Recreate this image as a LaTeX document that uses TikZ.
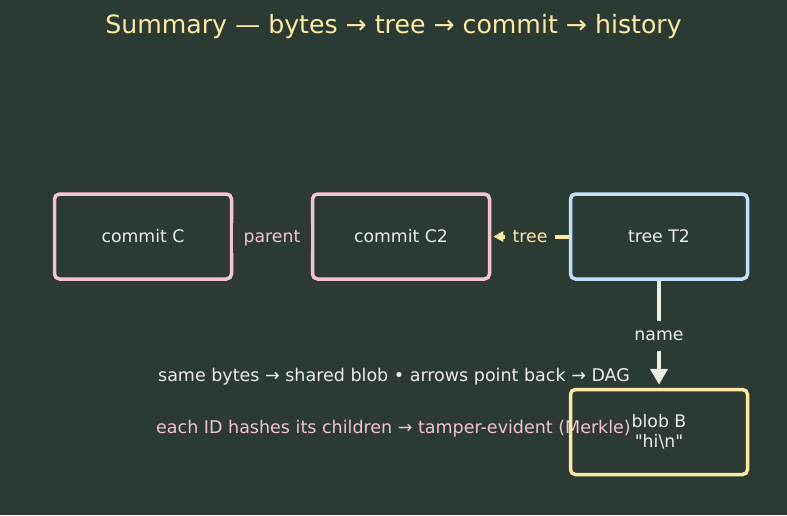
\documentclass[tikz,border=0pt]{standalone}
\usepackage{fontspec}
\setmainfont{DejaVu Sans}[Ligatures=TeXOff]
\usetikzlibrary{arrows.meta}
\definecolor{bg}{HTML}{2B3B34}
\definecolor{pinkc}{HTML}{F5C2CF}
\definecolor{bluec}{HTML}{C2E0FA}
\definecolor{yellowc}{HTML}{FCE9A4}
\definecolor{inkc}{HTML}{EDEDE6}
\begin{document}
\begin{tikzpicture}[x=1pt,y=-1pt,
	obj/.style={line width=3.5pt,rounded corners=5pt,minimum width=177pt,minimum height=85pt,text=inkc,align=center,font=\fontsize{17.3}{20}\selectfont},
	lbl/.style={fill=bg,inner xsep=8pt,inner ysep=7pt,text height=12.5pt,text depth=3.5pt,yshift=-1.5pt,font=\fontsize{17.3}{20}\selectfont},
	note/.style={font=\fontsize{17.5}{20}\selectfont}]
	\fill[bg] (0,0) rectangle (787,515);
	\node[text=yellowc,font=\fontsize{25.2}{30}\selectfont] (title) at (393.5,26.5) {Summary — bytes → tree → commit → history};
	% notes under the boxes
	\node[note,text=inkc] (same) at (394,377) {same bytes → shared blob • arrows point back → DAG};
	\node[note,text=pinkc] (merkle) at (393.5,429) {each ID hashes its children → tamper-evident (Merkle)};
	\node[obj,draw=pinkc] (c) at (143,236.5) {commit C};
	\node[obj,draw=pinkc] (c2) at (401,236.5) {commit C2};
	\node[obj,draw=bluec] (t2) at (659,236.5) {tree T2};
	\node[obj,draw=yellowc] (b) at (659,432) {blob B\\"hi\textbackslash n"};
	\draw[pinkc,line width=4pt,-{Triangle[length=10pt,width=10pt]}] (c2) -- node[lbl,text=pinkc,inner xsep=11pt] {parent} (c);
	\draw[yellowc,line width=4pt,-{Triangle[length=10pt,width=10pt]},shorten >=2pt] (t2) -- node[lbl,text=yellowc] {tree} (c2);
	\draw[inkc,line width=4pt,-{Triangle[length=16pt,width=17pt]},shorten >=3pt] (t2) -- node[lbl,text=inkc] {name} (b);
\end{tikzpicture}
\end{document}
